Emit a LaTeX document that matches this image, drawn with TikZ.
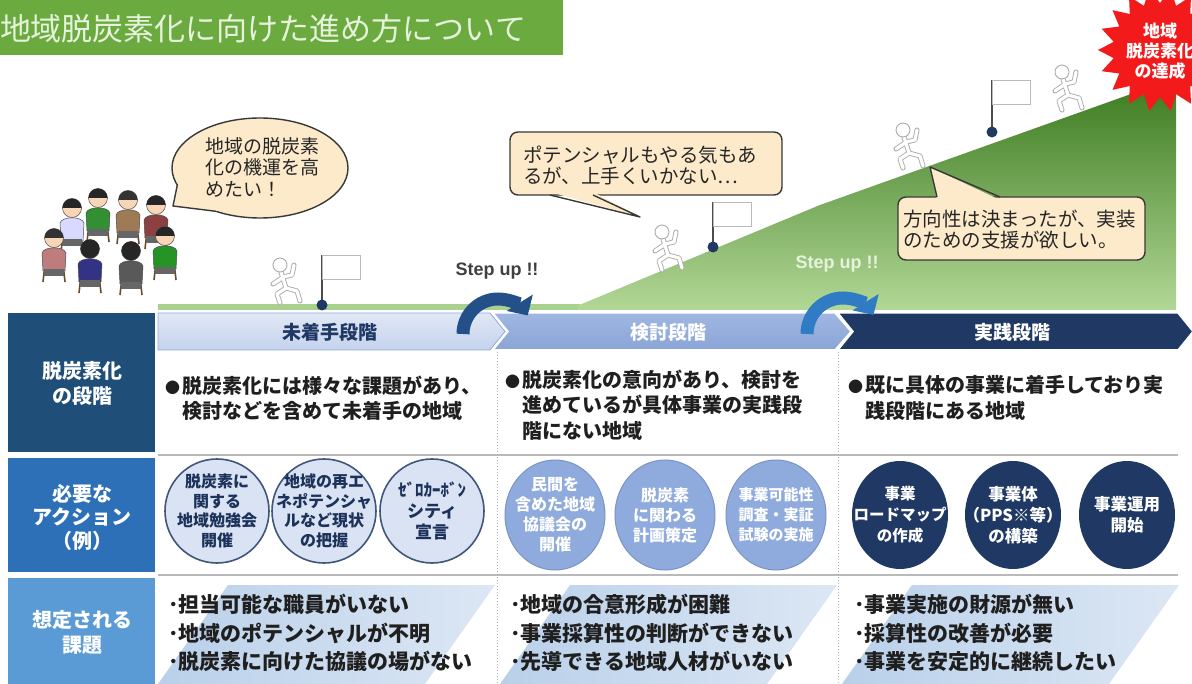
\documentclass[tikz,border=0pt]{standalone}
\usepackage{fontspec}
\setmainfont{Noto Sans CJK JP}
\newfontfamily\stepfont{Liberation Sans}
\usetikzlibrary{arrows.meta,shapes.geometric}

\definecolor{titlegreen}{HTML}{6AAA3E}
\definecolor{titletext}{HTML}{E6F2DC}
\definecolor{navy}{HTML}{1F3864}
\definecolor{hdrnavy}{HTML}{1F4E79}
\definecolor{hdrblue}{HTML}{2E70B8}
\definecolor{hdrlight}{HTML}{5B9BD5}
\definecolor{midblue}{HTML}{8FAADC}
\definecolor{paleblue}{HTML}{DAE3F3}
\definecolor{beige}{HTML}{FCEACB}
\definecolor{skin}{HTML}{F7D5B5}
\definecolor{slopedark}{HTML}{3A7A1E}
\definecolor{slopemid}{HTML}{5E9E3C}
\definecolor{slopelight}{HTML}{B2D796}
\definecolor{groundgreen}{HTML}{A9D18E}
\definecolor{paraleft}{HTML}{B9D0EA}
\definecolor{pararight}{HTML}{DCE7F4}
\definecolor{stepdark}{HTML}{24508A}
\definecolor{steplight}{HTML}{2F7BC4}
\definecolor{chairbrown}{HTML}{6B4A2E}
\definecolor{burstred}{HTML}{F21A1A}

% one seated person: x, y (head centre), shirt, hair, face colour
\newcommand\seatfig[5]{%
  \begin{scope}[shift={(#1,#2)}]
    \draw[chairbrown,line width=1.6pt] (-9,26) -- (-11,44) (9,26) -- (11,44);
    \filldraw[fill=#3,draw=black!70,line width=0.5pt]
      (-11,33) -- (-12,15) .. controls (-10,8) and (10,8) .. (12,15) -- (11,33) -- cycle;
    \fill[black!60] (-10,31) rectangle (10,38);
    \filldraw[fill=#5,draw=black!70,line width=0.5pt] (0,0) circle (9.5);
    \fill[#4] (-9.5,0) arc[start angle=180,end angle=360,radius=9.5] -- cycle;
  \end{scope}}

% bullet mark for the stage descriptions
\newcommand\stagebullet{\makebox[0.85em][l]{\fontsize{15}{15}\selectfont ●}}

\tikzset{
  climb/.style={draw=gray!65,double=white,double distance=3.2pt,line width=0.9pt,
    line cap=round,line join=round},
  pics/climber/.style={code={
    \draw[climb] (1,7) -- (6,23) (3,12) -- (12,10) -- (14,0) (2,13) -- (-7,19)
      (6,23) -- (17,26) -- (20,36) (6,23) -- (-3,29) -- (0,38);
    \draw[draw=gray!65,fill=white,line width=0.9pt] (0,0) circle (7);
  }},
}

\begin{document}
\begin{tikzpicture}[x=1pt,y=-1pt,
  every node/.style={inner sep=0pt,outer sep=0pt},
  rowhead/.style={text=white,align=center,font=\bfseries\fontsize{20}{25}\selectfont},
  celltext/.style={anchor=west,align=left,text=black!88,font=\bfseries\fontsize{20}{25.5}\selectfont},
  issuetext/.style={anchor=west,align=left,text=black!88,font=\bfseries\fontsize{21}{28.5}\selectfont},
  bubbletext/.style={anchor=west,align=left,text=black!85,font=\fontsize{19.5}{21}\selectfont},
  bubble/.style={fill=beige,draw=black!78,line width=1.4pt},
  paleact/.style={circle,minimum size=104pt,fill=paleblue,draw=navy!85,line width=1.6pt},
  midact/.style={ellipse,minimum width=100pt,minimum height=110pt,fill=midblue,
    draw=midblue!80!navy,line width=1pt},
  navyact/.style={ellipse,minimum width=96pt,minimum height=108pt,fill=navy},
  paletext/.style={align=center,text=navy!90!black,font=\bfseries\fontsize{16}{19.5}\selectfont},
  acttext/.style={align=center,text=white,font=\bfseries\fontsize{16}{20}\selectfont},
  navytext/.style={align=center,text=white,font=\bfseries\fontsize{16.5}{21}\selectfont},
  chevtext/.style={font=\bfseries\fontsize{19}{19}\selectfont},
  stepup/.style={font=\stepfont\bfseries\fontsize{18}{18}\selectfont},
  sep/.style={draw=gray!55,line width=1.2pt},
  dotsep/.style={draw=gray!60,line width=1pt,dotted},
]
\useasboundingbox (0,0) rectangle (1192,684);
\clip (0,0) rectangle (1192,684);
\fill[white] (0,0) rectangle (1192,684);

% ---- title bar
\fill[titlegreen] (0,0) rectangle (563,55);
\node[anchor=west,text=titletext,font=\fontsize{31}{31}\selectfont] (title) at (0,29)
  {地域脱炭素化に向けた進め方について};

% ---- ground and hill
\fill[groundgreen] (158,304) rectangle (580,310);
\shade[top color=slopedark,middle color=slopemid,bottom color=slopelight]
  (577,306) -- (820,205) -- (1176,78) -- (1176,310) -- (577,310) -- cycle;

% ---- flags
\foreach \fx/\fy/\ft in {322/305/255,713/247/202,992/132/80}{
  \draw[black!70,line width=1.2pt] (\fx,\fy) -- (\fx,\ft);
  \draw[gray!55,fill=white,line width=0.8pt] (\fx,\ft) rectangle (\fx+38,\ft+24);
  \fill[navy] (\fx,\fy) circle (5.5);
}

% ---- climbers
\pic at (280,265) {climber};
\pic at (662,232) {climber};
\pic at (903,130) {climber};
\pic at (1062,72) {climber};

% ---- speech bubbles
\filldraw[bubble] (260,168) ellipse [x radius=88,y radius=50];
\fill[beige] (177.3,185.1) -- (173,206) -- (216,211.3) -- (260,168) -- cycle;
\draw[black!78,line width=1.4pt,line join=round] (177.3,185.1) -- (173,206) -- (216,211.3);
\node[bubbletext,font=\fontsize{19}{21.5}\selectfont] (say1) at (205,167)
  {地域の脱炭素\\化の機運を高\\めたい！};

\filldraw[bubble,rounded corners=8pt] (510,132) rectangle (782,195);
\fill[beige] (550,192) -- (640,217) -- (593,192) -- cycle;
\draw[black!78,line width=1.4pt,line join=round] (550,195) -- (640,217) -- (593,195);
\node[bubbletext] (say2) at (523,165) {ポテンシャルもやる気もあ\\るが、上手くいかない…};

\filldraw[bubble,rounded corners=8pt] (898,197) rectangle (1145,260);
\fill[beige] (937,200) -- (930,167) -- (1000,200) -- cycle;
\draw[black!78,line width=1.4pt,line join=round] (937,197) -- (930,167) -- (1000,197);
\node[bubbletext] (say3) at (903,230) {方向性は決まったが、実装\\のための支援が欲しい。};

% ---- group of seated people
\seatfig{72}{208}{white!85!blue}{black!85}{skin}
\seatfig{98}{198}{green!45!black!80!white}{black!85}{skin}
\seatfig{128}{200}{brown!70!black!80!white}{black!80}{skin}
\seatfig{156}{205}{red!40!black!75!white}{black!85}{skin}
\seatfig{54}{238}{red!35!white!75!black}{black!80}{skin}
\seatfig{165}{236}{green!50!black!85!white}{black!85}{skin}
\seatfig{90}{249}{blue!40!black!80!white}{black!85}{black!85}
\seatfig{131}{251}{black!65}{black!85}{black!85}

% ---- goal burst
\fill[burstred] plot[samples=37,domain=0:36]
  ({1160+(62-15*mod(\x,2))*cos(\x*10)},{50+(62-15*mod(\x,2))*sin(\x*10)}) -- cycle;
\node[align=center,text=white,font=\bfseries\fontsize{17}{20}\selectfont] (goal) at (1160,51)
  {地域\\脱炭素化\\の達成};

% ---- row headers
\fill[hdrnavy] (8,313) rectangle (155,452);
\fill[hdrblue] (8,458) rectangle (155,572);
\fill[hdrlight] (8,578) rectangle (155,684);
\node[rowhead] (h1) at (82,383) {脱炭素化\\の段階};
\node[rowhead,font=\bfseries\fontsize{20}{23.5}\selectfont] (h2) at (82,517) {必要な\\アクション\\（例）};
\node[rowhead] (h3) at (82,632) {想定される\\課題};

% ---- stage chevrons
\shade[top color=paleblue!80!white,bottom color=paleblue!70!midblue,draw=midblue,line width=0.8pt]
  (158,313) -- (490,313) -- (505,331.5) -- (490,350) -- (158,350) -- cycle;
\shade[top color=midblue!85!white,bottom color=midblue!95!navy,draw=white,line width=1.5pt]
  (493,313) -- (835,313) -- (851,331.5) -- (835,350) -- (493,350) -- (508,331.5) -- cycle;
\filldraw[fill=navy,draw=white,line width=1.5pt]
  (838,313) -- (1178,313) -- (1193,331.5) -- (1178,350) -- (838,350) -- (853,331.5) -- cycle;
\node[chevtext,text=navy] (s1) at (330,332) {未着手段階};
\node[chevtext,text=white] (s2) at (668,332) {検討段階};
\node[chevtext,text=white] (s3) at (1012,332) {実践段階};

% ---- grid lines
\draw[sep] (158,455) -- (1178,455);
\draw[sep] (158,575) -- (1178,575);
\draw[dotsep] (497,352) -- (497,684);
\draw[dotsep] (838,352) -- (838,684);

% ---- stage descriptions
\node[celltext] (d1) at (165,398)
  {\stagebullet 脱炭素化には様々な課題があり、\\\hspace*{0.85em}検討などを含めて未着手の地域};
\node[celltext] (d2) at (505,405)
  {\stagebullet 脱炭素化の意向があり、検討を\\\hspace*{0.85em}進めているが具体事業の実践段\\\hspace*{0.85em}階にない地域};
\node[celltext] (d3) at (848,398)
  {\stagebullet 既に具体の事業に着手しており実\\\hspace*{0.85em}践段階にある地域};

% ---- actions: shapes
\node[paleact] (a1) at (217,511) {};
\node[paleact] (a2) at (324,511) {};
\node[paleact] (a3) at (432,511) {};
\node[midact] (a4) at (555,515) {};
\node[midact] (a5) at (665,515) {};
\node[midact] (a6) at (776,515) {};
\node[navyact] (a7) at (900,515) {};
\node[navyact] (a8) at (1013,515) {};
\node[navyact] (a9) at (1127,515) {};
% ---- actions: labels
\node[paletext] (t1) at (a1) {脱炭素に\\関する\\地域勉強会\\開催};
\node[paletext] (t2) at (a2) {地域の再エ\\ネポテンシャ\\ルなど現状\\の把握};
\node[paletext,font=\bfseries\fontsize{17}{21}\selectfont] (t3) at (a3) {ｾﾞﾛｶｰﾎﾞﾝ\\シティ\\宣言};
\node[acttext] (t4) at (a4) {民間を\\含めた地域\\協議会の\\開催};
\node[acttext] (t5) at (a5) {脱炭素\\に関わる\\計画策定};
\node[acttext,font=\bfseries\fontsize{15}{20}\selectfont] (t6) at (a6) {事業可能性\\調査・実証\\試験の実施};
\node[navytext,font=\bfseries\fontsize{15.5}{21}\selectfont] (t7) at (a7) {事業\\ロードマップ\\の作成};
\node[navytext] (t8) at (a8) {事業体\\（PPS※等）\\の構築};
\node[navytext] (t9) at (a9) {事業運用\\開始};

% ---- expected issues
\foreach \px in {0,342,684}{
  \shade[left color=paraleft,right color=pararight]
    (228+\px,585) -- (495+\px,585) -- (425+\px,684) -- (158+\px,684) -- cycle;
}
\node[issuetext] (i1) at (168,633)
  {･担当可能な職員がいない\\･地域のポテンシャルが不明\\･脱炭素に向けた協議の場がない};
\node[issuetext] (i2) at (510,633)
  {･地域の合意形成が困難\\･事業採算性の判断ができない\\･先導できる地域人材がいない};
\node[issuetext] (i3) at (854,633)
  {･事業実施の財源が無い\\･採算性の改善が必要\\･事業を安定的に継続したい};

% ---- step-up arrows
\draw[stepdark,line width=13pt,-{Triangle[width=30pt,length=15pt]}]
  (463,334) arc[start angle=180,end angle=328,radius=35];
\draw[steplight,line width=13pt,-{Triangle[width=30pt,length=15pt]}]
  (807,334) arc[start angle=180,end angle=328,radius=36];
\node[stepup,text=black!75] (up1) at (497,271) {Step up !!};
\node[stepup,text=titletext] (up2) at (837,264) {Step up !!};
\end{tikzpicture}
\end{document}
